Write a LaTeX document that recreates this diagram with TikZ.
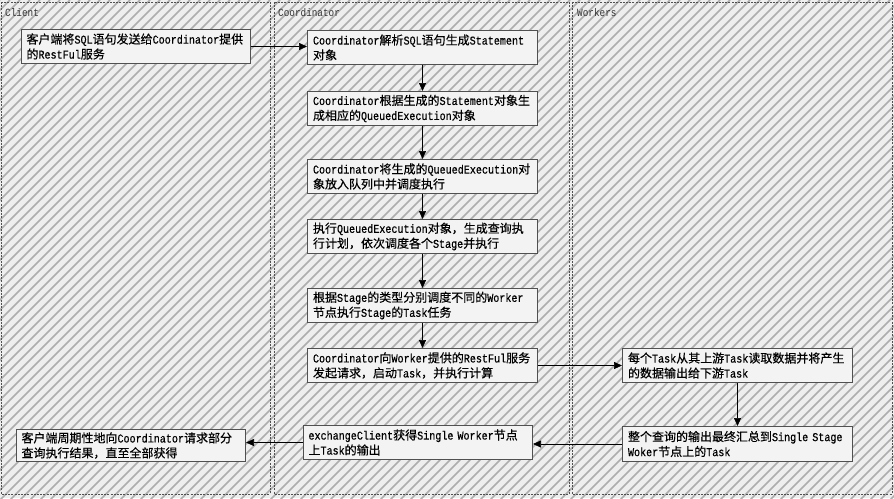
\documentclass[tikz,border=0pt]{standalone}
\usepackage{fontspec}
\setmainfont{Noto Sans CJK SC}[FakeBold=0.4]
\newfontfamily\lat{Liberation Mono}[FakeStretch=0.84,FakeBold=0.5]
\newfontfamily\ttl{Liberation Mono}[FakeStretch=0.85]
\newcommand\en[1]{{\lat #1}}
\usetikzlibrary{arrows.meta}
\definecolor{bgc}{HTML}{EEEEEE}
\definecolor{hatchc}{HTML}{ADADAD}
\definecolor{boxc}{HTML}{F3F3F3}
\definecolor{edgec}{HTML}{505050}
\tikzset{
  lane/.style={draw=edgec, dashed, dash pattern=on 2pt off 1.2pt, line width=0.9pt},
  lanetitle/.style={anchor=west, font=\ttl\fontsize{11}{12}\selectfont, text=black!80, inner sep=0},
  box/.style={draw=edgec, fill=boxc, line width=1pt, anchor=north west, minimum width=230pt,
    minimum height=34pt, text width=219pt, inner xsep=5pt, inner ysep=2pt, align=left,
    font=\fontsize{12}{15}\selectfont},
  arr/.style={-{Triangle[length=8pt,width=7pt]}, line width=0.7pt, black},
  hatch/.style={hatchc, line width=1.6pt}
}
\begin{document}
\begin{tikzpicture}[x=1pt,y=-1pt]
\useasboundingbox (0,0) rectangle (894,498);
\fill[bgc] (0,0) rectangle (894,498);
\begin{scope}
\clip (0,0) rectangle (894,498);
\foreach \c in {0,10,...,1400} \draw[hatch] (\c,0) -- ++(-500,500);
\end{scope}
% lanes
\draw[lane] (1,2) rectangle (270,494);
\draw[lane] (274,2) rectangle (569,494);
\draw[lane] (572,2) rectangle (892,494);
\node[lanetitle] (tc) at (5,13) {Client};
\node[lanetitle] (tk) at (278,13) {Coordinator};
\node[lanetitle] (tw) at (577,13) {Workers};
% client
\node[box, minimum width=227pt] (c1) at (21,29) {客户端将\en{SQL}语句发送给\en{Coordinator}提供\\的\en{RestFul}服务};
\node[box, minimum width=227pt, minimum height=32pt] (c2) at (16,429) {客户端周期性地向\en{Coordinator}请求部分\\查询执行结果，直至全部获得};
% coordinator
\node[box] (k1) at (307,30) {\en{Coordinator}解析\en{SQL}语句生成\en{Statement}\\对象};
\node[box] (k2) at (307,91) {\en{Coordinator}根据生成的\en{Statement}对象生\\成相应的\en{QueuedExecution}对象};
\node[box] (k3) at (307,159) {\en{Coordinator}将生成的\en{QueuedExecution}对\\象放入队列中并调度执行};
\node[box] (k4) at (307,219) {执行\en{QueuedExecution}对象，生成查询执\\行计划，依次调度各个\en{Stage}并执行};
\node[box] (k5) at (307,288) {根据\en{Stage}的类型分别调度不同的\en{Worker}\\节点执行\en{Stage}的\en{Task}任务};
\node[box] (k6) at (307,348) {\en{Coordinator}向\en{Worker}提供的\en{RestFul}服务\\发起请求，启动\en{Task}，并执行计算};
\node[box, minimum width=229pt] (k7) at (303,425) {\en{exchangeClient}获得\en{Single Worker}节点\\上\en{Task}的输出};
% workers
\node[box] (w1) at (622,348) {每个\en{Task}从其上游\en{Task}读取数据并将产生\\的数据输出给下游\en{Task}};
\node[box, minimum height=35pt] (w2) at (622,426) {整个查询的输出最终汇总到\en{Single Stage}\\\en{Woker}节点上的\en{Task}};
% connectors
\draw[arr] (c1.east) -- (c1.east -| k1.west);
\draw[arr] (k1) -- (k2);
\draw[arr] (k2) -- (k3);
\draw[arr] (k3) -- (k4);
\draw[arr] (k4) -- (k5);
\draw[arr] (k5) -- (k6);
\draw[arr] (k6.east) -- (k6.east -| w1.west);
\draw[arr] (w1) -- (w2);
\draw[arr] (w2.west) -- (w2.west -| k7.east);
\draw[arr] (k7.west) -- (k7.west -| c2.east);
\end{tikzpicture}
\end{document}
